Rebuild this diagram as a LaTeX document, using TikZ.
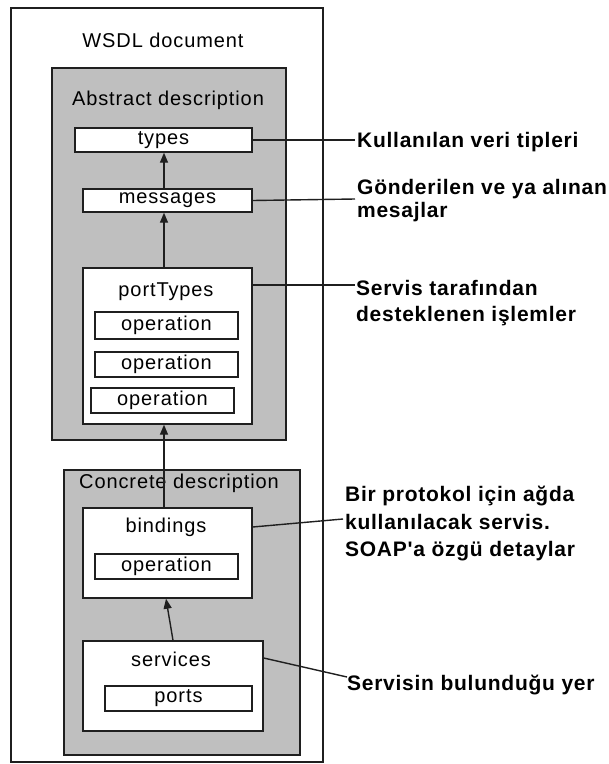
\documentclass[tikz,border=0pt]{standalone}
\usepackage{fontspec}
\setmainfont{Liberation Sans}
\newfontfamily\boxface[LetterSpace=4.5]{Liberation Sans}
\newfontfamily\noteface[LetterSpace=3.5]{Liberation Sans Bold}
\usetikzlibrary{arrows.meta}

\tikzset{
  frame/.style={draw=black!88, line width=1.4pt},
  panel/.style={frame, fill=black!25},
  wbox/.style={frame, fill=white, inner sep=0pt},
  boxtext/.style={font=\boxface\fontsize{20}{24}\selectfont, inner sep=0pt},
  notetext/.style={font=\noteface\fontsize{21}{27}\selectfont, inner sep=0pt, align=left},
  arr/.style={draw=black!88, line width=1.4pt, -{Triangle[length=10pt,width=8pt]}},
  lead/.style={draw=black!88, line width=1.4pt},
}

\begin{document}
\begin{tikzpicture}[x=1pt, y=-1pt]
  % canvas
  \path[fill=white, use as bounding box] (0,0) rectangle (609,764);

  % outer document frame and the two description panels
  \node[wbox, minimum width=312pt, minimum height=754pt] (doc) at (167,385) {};
  \node[boxtext] (doctitle) at (163,40) {WSDL document};

  \node[panel, minimum width=234pt, minimum height=372pt] (abstract) at (169,254) {};
  \node[boxtext] (abstitle) at (168,100) {Abstract description};

  \node[panel, minimum width=236pt, minimum height=285pt] (concrete) at (182,612.5) {};
  \node[boxtext] (contitle) at (179,483) {Concrete description};

  % abstract part
  \node[wbox, boxtext, minimum width=177pt, minimum height=24pt] (types) at (163.5,140) {types};
  \node[wbox, boxtext, minimum width=169pt, minimum height=23pt] (messages) at (167.5,200.5) {messages};
  \node[wbox, minimum width=169pt, minimum height=156pt] (porttypes) at (167.5,346) {};
  \node[boxtext] (pttitle) at (166,292) {portTypes};
  \node[wbox, boxtext, minimum width=143pt, minimum height=27pt] (op1) at (166.5,325.5) {operation};
  \node[wbox, boxtext, minimum width=143pt, minimum height=25pt] (op2) at (166.5,364.5) {operation};
  \node[wbox, boxtext, minimum width=143pt, minimum height=25pt] (op3) at (162.5,400.5) {operation};

  % concrete part
  \node[wbox, minimum width=169pt, minimum height=90pt] (bindings) at (167.5,553) {};
  \node[boxtext] (bdtitle) at (166,527) {bindings};
  \node[wbox, boxtext, minimum width=143pt, minimum height=25pt] (bop) at (166.5,566.5) {operation};
  \node[wbox, minimum width=180pt, minimum height=90pt] (services) at (173,686) {};
  \node[boxtext] (svtitle) at (171,659) {services};
  \node[wbox, boxtext, minimum width=147pt, minimum height=25pt] (ports) at (178.5,698.5) {ports};

  % references between the parts
  \draw[arr] ([xshift=-3.5pt]messages.north) -- ([xshift=-3.5pt]messages.north |- types.south);
  \draw[arr] ([xshift=-3.5pt]porttypes.north) -- ([xshift=-3.5pt]porttypes.north |- messages.south);
  \draw[arr] ([xshift=-3.5pt]bindings.north) -- ([xshift=-3.5pt]bindings.north |- porttypes.south);
  \draw[arr] (services.north) -- ([xshift=-1.5pt]bindings.south);

  % explanatory notes
  \coordinate (e1) at (355,140);
  \coordinate (e2) at (355,199);
  \coordinate (e3) at (355,285);
  \coordinate (e4) at (343,519);
  \coordinate (e5) at (347,677);

  \node[notetext, anchor=base west] (n1) at (357,147) {Kullanılan veri tipleri};
  \node[notetext, anchor=north west, font=\noteface\fontsize{21}{23}\selectfont] (n2) at (357,179)
    {Gönderilen ve ya alınan\\mesajlar};
  \node[notetext, anchor=north west, font=\noteface\fontsize{21}{26}\selectfont] (n3) at (356,280)
    {Servis tarafından\\desteklenen işlemler};
  \node[notetext, anchor=north west, font=\noteface\fontsize{21}{27.5}\selectfont] (n4) at (345,486)
    {Bir protokol için ağda\\kullanılacak servis.\\SOAP'a özgü detaylar};
  \node[notetext, anchor=base west] (n5) at (347,690) {Servisin bulunduğu yer};

  \draw[lead] (types.east) -- (e1);
  \draw[lead] (messages.east) -- (e2);
  \draw[lead] (e3 -| porttypes.east) -- (e3);
  \draw[lead] ([yshift=26pt]bindings.east) -- (e4);
  \draw[lead] ([yshift=28pt]services.east) -- (e5);
\end{tikzpicture}
\end{document}
